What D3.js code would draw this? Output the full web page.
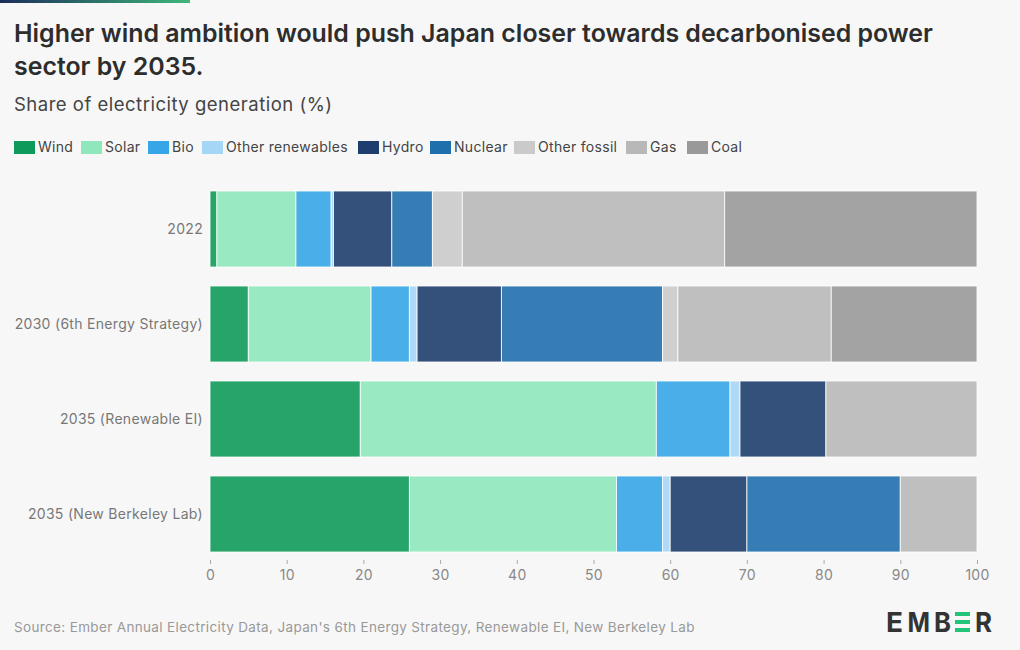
<!DOCTYPE html>
<html><head><meta charset="utf-8">
<script src="https://cdn.jsdelivr.net/npm/d3@7"></script>
<style>
html,body{margin:0;padding:0;background:#f7f7f7;}
svg{display:block;font-family:Inter,"Noto Sans",sans-serif;}
</style></head><body>
<svg id="c" width="1020" height="650"></svg>
<script>
const categories = ["2022","2030 (6th Energy Strategy)","2035 (Renewable EI)","2035 (New Berkeley Lab)"];
const seriesNames = ["Wind","Solar","Bio","Other renewables","Hydro","Nuclear","Other fossil","Gas","Coal"];
const wind      = [0.9, 5, 19.6, 26];
const solar     = [10.3, 16, 38.6, 27];
const bio       = [4.6, 5, 9.6, 6];
const otherRen  = [0.3, 1, 1.3, 1];
const hydro     = [7.6, 11, 11.2, 10];
const nuclear   = [5.3, 21, 0, 20];
const otherFoss = [3.9, 2, 0, 0];
const gas       = [34.2, 20, 19.7, 10];
const coal      = [32.9, 19, 0, 0];
const xTicks = [0,10,20,30,40,50,60,70,80,90,100];
const colors = ["#0e9a5a","#8ee8bb","#36a6e6","#a6d6f5","#1e3e6e","#1f6fac","#cacaca","#b8b8b8","#999999"];

const seriesVals = [wind,solar,bio,otherRen,hydro,nuclear,otherFoss,gas,coal];
const rows = categories.map((c,i)=>{const o={cat:c}; seriesNames.forEach((s,j)=>o[s]=seriesVals[j][i]); return o;});
const stacked = d3.stack().keys(seriesNames)(rows);

const svg = d3.select("#c");
svg.append("rect").attr("width",1020).attr("height",650).attr("fill","#f7f7f7");
const grad = svg.append("defs").append("linearGradient").attr("id","g");
grad.append("stop").attr("offset","0%").attr("stop-color","#1b2e5a");
grad.append("stop").attr("offset","100%").attr("stop-color","#3fb77a");
svg.append("rect").attr("x",0).attr("y",0).attr("width",190).attr("height",3).attr("fill","url(#g)");

svg.append("text").attr("x",14).attr("y",42).attr("font-size",24.9).attr("font-weight",600).attr("fill","#2d2d2d")
  .text("Higher wind ambition would push Japan closer towards decarbonised power");
svg.append("text").attr("x",14).attr("y",75).attr("font-size",24.9).attr("font-weight",600).attr("fill","#2d2d2d")
  .text("sector by 2035.");
svg.append("text").attr("x",14).attr("y",111).attr("font-size",18.5).attr("letter-spacing","0.5").attr("fill","#444").text("Share of electricity generation (%)");

// legend
const legX = [14,81,148,202,358,430,514,626,687];
const leg = svg.append("g");
seriesNames.forEach((s,i)=>{
  leg.append("rect").attr("x",legX[i]).attr("y",141).attr("width",21).attr("height",13).attr("fill",colors[i]);
  leg.append("text").attr("x",legX[i]+24).attr("y",152).attr("font-size",14).attr("letter-spacing","0.3").attr("fill","#444").text(s);
});

const x = d3.scaleLinear().domain([0,100]).range([210,977]);
const y = d3.scaleBand().domain(categories).range([181.5,561.5]).paddingInner(0.2).paddingOuter(0.1);

svg.append("g").selectAll("g").data(stacked).join("g")
  .attr("fill",(d,i)=>colors[i]).attr("fill-opacity",0.9)
  .selectAll("rect").data(d=>d).join("rect")
  .attr("x",d=>x(d[0])).attr("y",d=>y(d.data.cat))
  .attr("width",d=>Math.max(0,x(d[1])-x(d[0]))).attr("height",y.bandwidth())
  .attr("stroke","#ffffff").attr("stroke-width",d=>(d[1]-d[0])>0?1:0).attr("stroke-opacity",0.8);

// y labels
svg.append("g").selectAll("text").data(categories).join("text")
  .attr("x",203).attr("y",d=>y(d)+y.bandwidth()/2+5).attr("text-anchor","end")
  .attr("font-size",14).attr("letter-spacing","0.3").attr("fill","#777").text(d=>d);

// x axis
const xa = svg.append("g").attr("transform","translate(0,560)")
  .call(d3.axisBottom(x).tickValues(xTicks).tickSize(4).tickPadding(6).tickFormat(d3.format("d")));
xa.select(".domain").remove();
xa.selectAll("line").attr("stroke","#aaa");
xa.selectAll("text").attr("font-size",14).attr("letter-spacing","0.3").attr("fill","#888").attr("font-family","Inter,'Noto Sans',sans-serif");

svg.append("text").attr("x",14).attr("y",632).attr("font-size",13.5).attr("letter-spacing","0.35").attr("fill","#999")
  .text("Source: Ember Annual Electricity Data, Japan's 6th Energy Strategy, Renewable EI, New Berkeley Lab");

// logo
const lg = svg.append("g").attr("font-size",27.5).attr("font-weight",700).attr("fill","#333").attr("font-family","Inter,sans-serif");
[["E",886,17],["M",907.5,22.5],["B",934,17],["R",975,17]].forEach(([t,xx,w])=>
  lg.append("text").attr("x",xx).attr("y",632).attr("textLength",w).attr("lengthAdjust","spacingAndGlyphs").text(t));
[612,620,628].forEach(yy=>lg.append("rect").attr("x",955).attr("y",yy).attr("width",15).attr("height",4).attr("fill","#20c57a"));
</script>
</body></html>
